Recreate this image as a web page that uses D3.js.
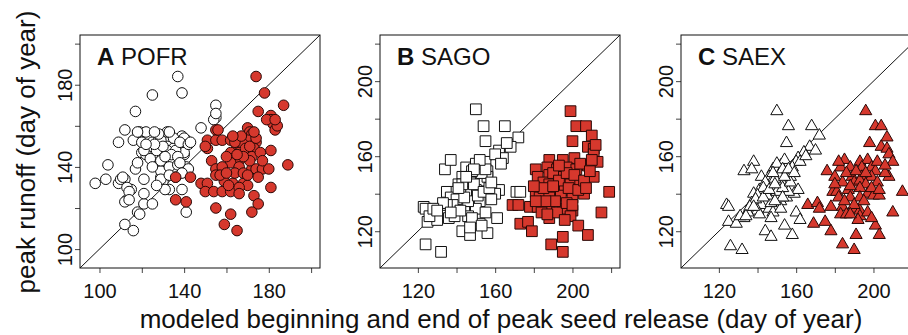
<!DOCTYPE html>
<html>
<head>
<meta charset="utf-8">
<script src="https://cdn.jsdelivr.net/npm/d3@7"></script>
<style>
  body { margin: 0; background: #fff; }
  svg { display: block; font-family: "Liberation Sans", Arial, Helvetica, sans-serif; }
</style>
</head>
<body>
<svg class="chart" width="908" height="335"></svg>
<script>
// [beginning or end of peak seed release, peak runoff] (day of year)
const pofrBegin = [
  [98,132],[103,134],[104,141],[109,132],[109,152],[112,158],[112,134],[113,124],[112,112],[116,109],
  [115,129],[117,167],[116,153],[119,157],[117,139],[118,118],[120,147],[121,122],[122,157],[121,134],
  [121,127],[125,175],[125,152],[125,122],[125,145],[128,153],[128,140],[129,135],[130,133],[132,157],
  [132,150],[132,142],[133,129],[135,149],[135,142],[136,139],[137,184],[139,176],[139,155],[139,150],
  [140,152],[141,153],[140,146],[141,140],[139,129],[141,118],[148,159],[155,170],[155,164],[154,163],
  [110,134],[113,130],[114,128],[112,123],[119,117],[129,138],[135,139],[129,134],[142,139],[122,146],
  [124,144],[129,143],[135,144],[140,147],[121,148],[127,148],[132,148],[136,148],[133,140],[129,153],
  [135,154],[140,154],[131,129],[118,142],[137,141],[133,157],[118,157],[130,150],[138,152],[142,151],
  [143,152],[126,151],[134,146],[131,145],[137,145],[136,135],[127,131],[133,136],[138,142],[155,166],
  [114,124],[111,135],[125,140],[120,152],[128,156],[126,157],[122,151],[139,137]
];
const pofrEnd = [
  [174,184],[178,176],[187,170],[175,167],[181,165],[181,163],[182,161],[183,158],[155,158],[170,159],
  [171,157],[172,156],[151,153],[155,153],[158,153],[162,153],[166,154],[170,153],[151,149],[165,150],
  [168,151],[174,152],[173,149],[162,147],[166,147],[170,147],[181,148],[163,144],[166,143],[162,142],
  [166,140],[153,143],[155,139],[158,140],[172,139],[174,139],[177,139],[180,139],[189,141],[175,135],
  [136,135],[143,135],[148,132],[151,132],[155,136],[159,133],[163,132],[168,132],[170,131],[150,128],
  [154,128],[158,128],[162,128],[166,130],[181,130],[173,126],[136,124],[141,123],[175,122],[155,120],
  [172,118],[162,117],[159,112],[165,109],[164,152],[167,155],[169,149],[172,145],[160,145],[164,137],
  [168,137],[171,143],[157,136],[161,131],[176,147],[177,143],[168,145],[163,155],[171,150],[174,154],
  [179,163],[184,160],[183,163],[156,158],[150,150],[170,136],[166,127],[160,137],[165,146],[173,157]
];
const sagoBegin = [
  [150,185],[154,176],[165,176],[155,168],[172,170],[162,163],[168,165],[164,159],[134,153],[137,158],
  [145,154],[150,154],[152,156],[155,157],[156,152],[149,149],[143,149],[141,145],[146,144],[153,147],
  [156,149],[162,142],[160,140],[150,142],[135,141],[140,141],[137,138],[152,136],[144,133],[139,132],
  [134,130],[136,127],[150,132],[155,130],[161,127],[146,128],[123,133],[124,132],[125,125],[130,126],
  [143,120],[147,118],[156,119],[152,124],[124,113],[132,109],[171,141],[173,141],[148,150],[151,152],
  [153,151],[150,156],[148,152],[147,146],[145,141],[142,142],[140,137],[138,134],[146,136],[143,145],
  [149,145],[151,139],[154,141],[157,143],[158,137],[135,134],[133,135],[139,128],[142,131],[148,127],
  [126,128],[128,132],[137,130],[144,138],[155,153],[152,158],[149,153],[145,149],[141,143],[160,161],
  [166,167],[163,156],[158,146],[130,131],[153,123],[147,122]
];
const sagoEnd = [
  [199,184],[202,176],[207,176],[210,171],[200,168],[208,165],[211,164],[211,161],[213,157],[188,158],
  [195,158],[201,159],[181,153],[187,154],[192,153],[197,154],[202,153],[208,155],[182,149],[188,150],
  [195,149],[199,149],[211,149],[185,146],[188,145],[194,146],[199,145],[204,146],[181,141],[187,141],
  [192,141],[196,142],[206,140],[219,141],[183,138],[188,138],[194,139],[200,138],[169,134],[172,134],
  [178,133],[182,133],[188,132],[195,132],[200,131],[215,130],[188,127],[199,128],[173,124],[177,125],
  [179,120],[203,123],[208,118],[195,117],[189,113],[195,109],[190,151],[193,147],[197,151],[185,143],
  [191,136],[198,143],[201,150],[204,156],[186,136],[192,130],[197,135],[203,142],[206,147],[209,152],
  [184,130],[190,144],[196,126],[180,144],[193,155],[210,158],[212,166],[207,143],[200,134],[187,129],
  [181,136]
];
const saexBegin = [
  [150,184],[156,176],[168,176],[155,167],[172,171],[167,165],[164,162],[170,163],[161,159],[160,157],
  [138,157],[133,152],[137,153],[142,149],[148,153],[152,155],[150,152],[155,151],[157,149],[146,149],
  [152,147],[147,146],[145,144],[141,142],[154,158],[158,154],[138,140],[137,135],[142,134],[140,131],
  [146,132],[148,130],[147,135],[152,136],[155,138],[159,140],[161,142],[156,141],[124,134],[125,133],
  [133,127],[125,125],[129,124],[144,120],[147,117],[154,123],[158,118],[160,130],[162,126],[152,132],
  [126,112],[132,110],[150,156],[151,150],[153,153],[149,148],[148,151],[144,146],[143,143],[140,139],
  [139,137],[135,130],[131,128],[136,133],[145,139],[150,141],[153,143],[157,146],[143,138],[146,142],
  [149,145],[154,149],[156,153],[159,151],[162,157],[165,160],[153,138],[149,136],[141,129],[134,128],
  [147,127],[138,133]
];
const saexEnd = [
  [196,184],[201,176],[204,176],[207,170],[198,167],[204,165],[207,164],[208,161],[210,157],[176,152],
  [185,158],[193,157],[197,158],[188,154],[183,154],[194,154],[199,154],[201,152],[180,149],[189,149],
  [194,149],[199,149],[208,149],[184,146],[190,146],[193,147],[196,145],[202,146],[179,141],[181,141],
  [187,142],[193,143],[197,140],[200,139],[203,139],[215,141],[182,138],[188,138],[193,138],[166,134],
  [171,135],[172,132],[178,133],[184,133],[183,129],[186,129],[191,132],[193,131],[193,128],[169,124],
  [175,125],[178,120],[201,123],[203,118],[191,118],[184,113],[190,110],[210,130],[186,151],[191,152],
  [196,151],[188,144],[195,136],[199,143],[185,136],[190,134],[197,130],[203,142],[206,151],[180,145],
  [192,126],[199,127],[188,129],[182,157],[202,157],[206,155]
];

const panelLetters = ["A", "B", "C"];
const species = ["POFR", "SAGO", "SAEX"];
const axisLimits = [[95, 200], [105, 220], [105, 220]];
const tickValues = [[100, 120, 140, 160, 180, 200], [120, 140, 160, 180, 200, 220], [120, 140, 160, 180, 200, 220]];
const tickLabels = [[100, 140, 180], [120, 160, 200], [120, 160, 200]];

const svg = d3.select(".chart");
const red = "#d6382d";

const boxTop = 35, boxH = 233, boxW = 240;
const boxLefts = [80, 380, 681];

const panels = [
  { begin: pofrBegin, end: pofrEnd, shape: d3.symbolCircle, size: 88 },
  { begin: sagoBegin, end: sagoEnd, shape: d3.symbolSquare, size: 115 },
  { begin: saexBegin, end: saexEnd, shape: d3.symbolTriangle, size: 64 }
];

panels.forEach((p, i) => {
  // R-style 4% expansion of the limits
  const [lo, hi] = axisLimits[i];
  const pad = (hi - lo) * 0.04;
  const dom = [lo - pad, hi + pad];

  const x = d3.scaleLinear().domain(dom).range([0, boxW]);
  const y = d3.scaleLinear().domain(dom).range([boxH, 0]);

  const g = svg.append("g").attr("transform", `translate(${boxLefts[i]}, ${boxTop})`);

  const fmt = d => (tickLabels[i].includes(d) ? d : "");

  const xAxis = g.append("g")
    .attr("transform", `translate(0, ${boxH})`)
    .call(d3.axisBottom(x).tickValues(tickValues[i]).tickFormat(fmt).tickSize(5).tickSizeOuter(0).tickPadding(10));
  xAxis.select(".domain").remove();
  xAxis.selectAll("line").attr("stroke", "#444");
  xAxis.selectAll("text")
    .attr("font-size", 20).attr("font-family", null).attr("fill", "#111")
    .attr("dy", "0.75em");

  const yAxis = g.append("g")
    .call(d3.axisLeft(y).tickValues(tickValues[i]).tickFormat(fmt).tickSize(5).tickSizeOuter(0));
  yAxis.select(".domain").remove();
  yAxis.selectAll("line").attr("stroke", "#444");
  yAxis.selectAll("text")
    .attr("font-size", 20).attr("font-family", null).attr("fill", "#111")
    .attr("transform", "rotate(-90)")
    .attr("x", 0).attr("y", -8).attr("dy", 0)
    .attr("text-anchor", "middle");

  // 1:1 line
  g.append("line")
    .attr("x1", x(dom[0])).attr("y1", y(dom[0]))
    .attr("x2", x(dom[1])).attr("y2", y(dom[1]))
    .attr("stroke", "#111").attr("stroke-width", 1);

  const sym = d3.symbol().type(p.shape).size(p.size);

  g.append("g").selectAll("path")
    .data(p.begin)
    .join("path")
    .attr("d", sym)
    .attr("transform", d => `translate(${x(d[0])}, ${y(d[1])})`)
    .attr("fill", "white")
    .attr("stroke", "#111")
    .attr("stroke-width", 1);

  g.append("g").selectAll("path")
    .data(p.end)
    .join("path")
    .attr("d", sym)
    .attr("transform", d => `translate(${x(d[0])}, ${y(d[1])})`)
    .attr("fill", red)
    .attr("stroke", "#2a0806")
    .attr("stroke-width", 1);

  g.append("rect")
    .attr("x", 0).attr("y", 0).attr("width", boxW).attr("height", boxH)
    .attr("fill", "none").attr("stroke", "#111").attr("stroke-width", 1);

  const title = g.append("text").attr("x", 17).attr("y", 30).attr("font-size", 24).attr("fill", "#111");
  title.append("tspan").attr("font-weight", "bold").text(panelLetters[i]);
  title.append("tspan").text(" " + species[i]);
});

svg.append("text")
  .attr("transform", "translate(35, 152) rotate(-90)")
  .attr("text-anchor", "middle")
  .attr("font-size", 26)
  .attr("fill", "#111")
  .text("peak runoff (day of year)");

svg.append("text")
  .attr("x", 501).attr("y", 328)
  .attr("text-anchor", "middle")
  .attr("font-size", 26)
  .attr("fill", "#111")
  .text("modeled beginning and end of peak seed release (day of year)");
</script>
</body>
</html>
